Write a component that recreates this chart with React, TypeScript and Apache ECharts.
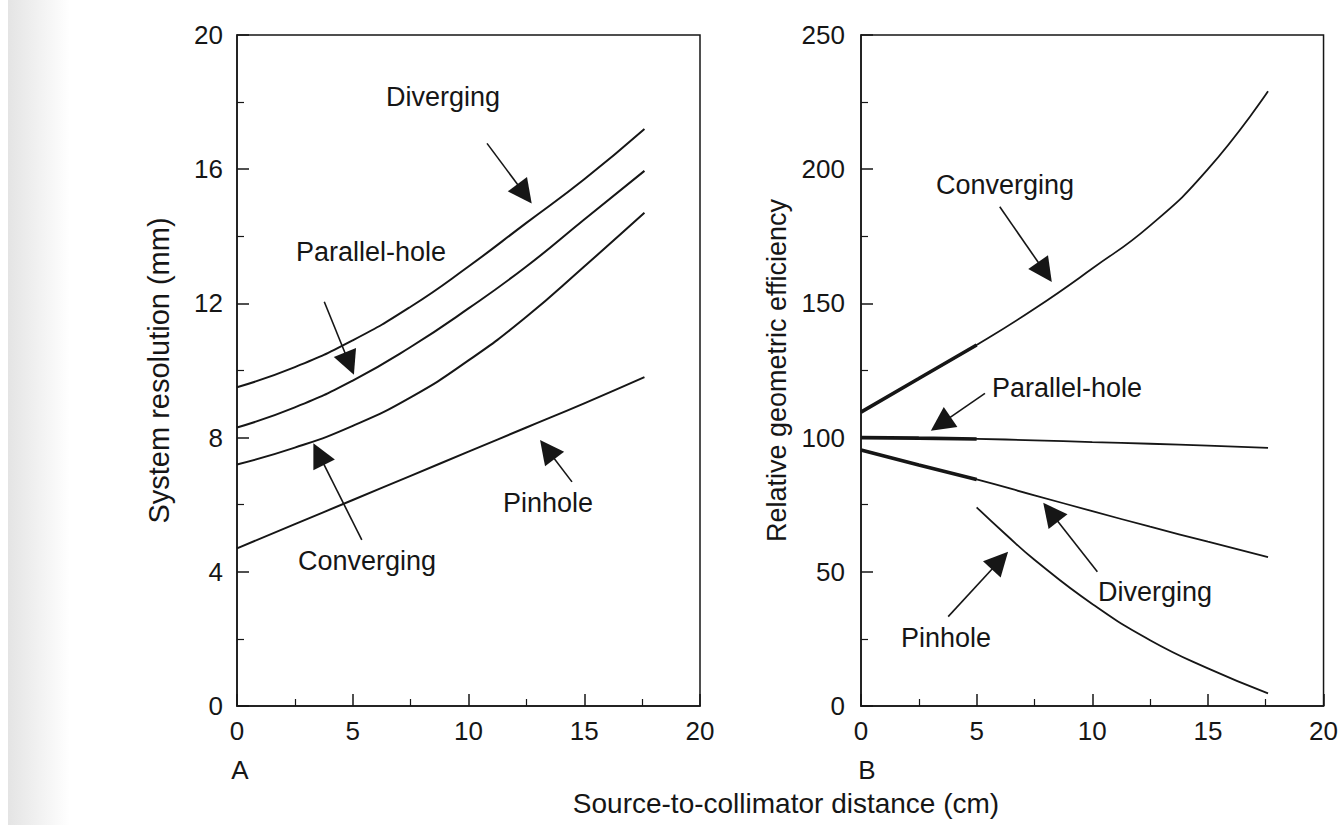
import React, { useEffect, useRef } from "react";
import * as echarts from "echarts";

const FONT = "'Liberation Sans', Arial, Helvetica, sans-serif";
const INK = "#161616";

// Panel A: system resolution (mm) vs source-to-collimator distance (cm)
const leftX = [0, 2.5, 5, 7.5, 10, 12.5, 15, 17.6];
const leftDiverging = [9.5, 10.1, 10.9, 11.9, 13.1, 14.4, 15.7, 17.2];
const leftParallel = [8.3, 8.9, 9.7, 10.7, 11.85, 13.1, 14.5, 15.95];
const leftConverging = [7.2, 7.7, 8.35, 9.2, 10.3, 11.6, 13.1, 14.7];
const leftPinhole = [4.7, 5.42, 6.14, 6.86, 7.58, 8.3, 9.02, 9.8];

// Panel B: relative geometric efficiency vs distance
const rightX = [0, 2.5, 5, 7.5, 10, 12.5, 15, 17.6];
const rightConverging = [109.5, 122, 134.5, 148, 163, 179, 200, 229];
const rightParallel = [100, 99.8, 99.5, 99, 98.3, 97.7, 97, 96.2];
const rightDiverging = [95.4, 89.8, 84.4, 78.5, 72.6, 66.8, 61.2, 55.5];
const pinholeX = [5, 6.25, 7.5, 10, 12.5, 15, 17.6];
const rightPinhole = [74, 64, 54.5, 38, 24.5, 14, 4.7];

// Annotation arrows (tail -> tip) in data units
type Arrow = { from: [number, number]; to: [number, number] };
const leftArrows: Arrow[] = [
  { from: [10.8, 16.77], to: [12.73, 14.98] },
  { from: [3.77, 12.05], to: [5.05, 9.87] },
  { from: [5.39, 4.95], to: [3.3, 7.83] },
  { from: [14.47, 6.68], to: [13.09, 7.93] },
];
const rightArrows: Arrow[] = [
  { from: [6.0, 186], to: [8.25, 158] },
  { from: [5.36, 116.5], to: [3.02, 102.6] },
  { from: [10.22, 50.0], to: [7.88, 75.7] },
  { from: [3.77, 33.3], to: [6.36, 57.5] },
];

const GRID_W = 463;
const GRID_H = 671;
const HEAD_LEN = 24;
const HEAD_W = 14;

function zip(xs: number[], ys: number[]) {
  return xs.map((x, i) => [x, ys[i]]);
}

function arrowData(arrows: Arrow[], xMax: number, yMax: number) {
  const kx = GRID_W / xMax;
  const ky = GRID_H / yMax;
  return arrows.map((a) => {
    const dx = (a.to[0] - a.from[0]) * kx;
    const dy = (a.to[1] - a.from[1]) * ky;
    const L = Math.hypot(dx, dy);
    const f = HEAD_LEN / 2 / L;
    const end = [
      a.to[0] - (a.to[0] - a.from[0]) * f,
      a.to[1] - (a.to[1] - a.from[1]) * f,
    ];
    return { coords: [a.from, end] };
  });
}

function xAxisCfg(gridIndex: number) {
  return {
    gridIndex,
    type: "value",
    min: 0,
    max: 20,
    interval: 5,
    axisLine: { show: true, lineStyle: { color: INK, width: 1.5 } },
    axisTick: { show: true, inside: true, length: 12, lineStyle: { color: INK, width: 1.5 } },
    minorTick: { show: true, splitNumber: 2, length: 7, lineStyle: { color: INK, width: 1.2 } },
    splitLine: { show: false },
    minorSplitLine: { show: false },
    axisLabel: { fontSize: 26, color: INK, fontFamily: FONT, margin: 12 },
  };
}

function lineSeries(x: number, y: number, data: number[][], width: number) {
  return {
    type: "line",
    xAxisIndex: x,
    yAxisIndex: y,
    data,
    smooth: 0.5,
    showSymbol: false,
    symbol: "none",
    lineStyle: { color: INK, width },
    silent: true,
  };
}

function arrowSeries(idx: number, data: any[]) {
  return {
    type: "lines",
    coordinateSystem: "cartesian2d",
    xAxisIndex: idx,
    yAxisIndex: idx,
    symbol: ["none", "triangle"],
    symbolSize: [HEAD_W, HEAD_LEN],
    lineStyle: { color: INK, width: 1.6, opacity: 1 },
    itemStyle: { color: INK },
    data,
    silent: true,
  };
}

function label(text: string, x: number, y: number, size = 27) {
  return {
    type: "text",
    x,
    y,
    style: {
      text,
      fill: INK,
      font: `${size}px ${FONT}`,
      textAlign: "center",
      textVerticalAlign: "middle",
    },
    silent: true,
  };
}

export default function App() {
  const ref = useRef<HTMLDivElement>(null);

  useEffect(() => {
    if (!ref.current) return;
    const chart = echarts.init(ref.current, undefined, { renderer: "svg" });
    const option: any = {
      animation: false,
      backgroundColor: "#ffffff",
      textStyle: { fontFamily: FONT },
      grid: [
        { left: 237, top: 35, width: GRID_W, height: GRID_H, show: true, borderColor: INK, borderWidth: 1.5, backgroundColor: "transparent" },
        { left: 861, top: 35, width: GRID_W, height: GRID_H, show: true, borderColor: INK, borderWidth: 1.5, backgroundColor: "transparent" },
      ],
      xAxis: [xAxisCfg(0), xAxisCfg(1)],
      yAxis: [
        {
          gridIndex: 0,
          type: "value",
          min: 0,
          max: 20,
          interval: 4,
          name: "System resolution (mm)",
          nameLocation: "middle",
          nameGap: 64,
          nameTextStyle: { fontSize: 29, color: INK, fontFamily: FONT },
          axisLine: { show: true, lineStyle: { color: INK, width: 1.5 } },
          axisTick: { show: true, inside: true, length: 12, lineStyle: { color: INK, width: 1.5 } },
          minorTick: { show: true, splitNumber: 2, length: 7, lineStyle: { color: INK, width: 1.2 } },
          splitLine: { show: false },
          axisLabel: { fontSize: 26, color: INK, fontFamily: FONT, margin: 14 },
        },
        {
          gridIndex: 1,
          type: "value",
          min: 0,
          max: 250,
          interval: 50,
          name: "Relative geometric efficiency",
          nameLocation: "middle",
          nameGap: 71,
          nameTextStyle: { fontSize: 27, color: INK, fontFamily: FONT },
          axisLine: { show: true, lineStyle: { color: INK, width: 1.5 } },
          axisTick: { show: true, inside: true, length: 12, lineStyle: { color: INK, width: 1.5 } },
          minorTick: { show: true, splitNumber: 2, length: 7, lineStyle: { color: INK, width: 1.2 } },
          splitLine: { show: false },
          axisLabel: { fontSize: 26, color: INK, fontFamily: FONT, margin: 16 },
        },
      ],
      series: [
        lineSeries(0, 0, zip(leftX, leftDiverging), 2),
        lineSeries(0, 0, zip(leftX, leftParallel), 2),
        lineSeries(0, 0, zip(leftX, leftConverging), 2),
        lineSeries(0, 0, zip(leftX, leftPinhole), 2),
        lineSeries(1, 1, zip(rightX, rightConverging), 1.8),
        lineSeries(1, 1, zip(rightX, rightParallel), 1.8),
        lineSeries(1, 1, zip(rightX, rightDiverging), 1.8),
        lineSeries(1, 1, zip(pinholeX, rightPinhole), 1.8),
        lineSeries(1, 1, zip(rightX.slice(0, 3), rightConverging.slice(0, 3)), 3.6),
        lineSeries(1, 1, zip(rightX.slice(0, 3), rightParallel.slice(0, 3)), 3.6),
        lineSeries(1, 1, zip(rightX.slice(0, 3), rightDiverging.slice(0, 3)), 3.6),
        arrowSeries(0, arrowData(leftArrows, 20, 20)),
        arrowSeries(1, arrowData(rightArrows, 20, 250)),
      ],
      graphic: [
        {
          type: "rect",
          shape: { x: 8, y: 0, width: 62, height: 825 },
          style: {
            fill: new echarts.graphic.LinearGradient(0, 0, 1, 0, [
              { offset: 0, color: "#e4e4e4" },
              { offset: 1, color: "#ffffff" },
            ]),
          },
          z: -10,
          silent: true,
        },
        label("Diverging", 443, 97),
        label("Parallel-hole", 371, 252),
        label("Converging", 367, 561),
        label("Pinhole", 548, 503),
        label("Converging", 1005, 185),
        label("Parallel-hole", 1067, 388),
        label("Diverging", 1155, 592),
        label("Pinhole", 946, 638),
        label("A", 240, 770, 26),
        label("B", 867, 770, 26),
        label("Source-to-collimator distance (cm)", 786, 803, 28),
      ],
    };
    chart.setOption(option);
    return () => chart.dispose();
  }, []);

  return (
    <div
      ref={ref}
      style={{ position: "fixed", left: 0, top: 0, width: 1341, height: 825, background: "#fff" }}
    />
  );
}
